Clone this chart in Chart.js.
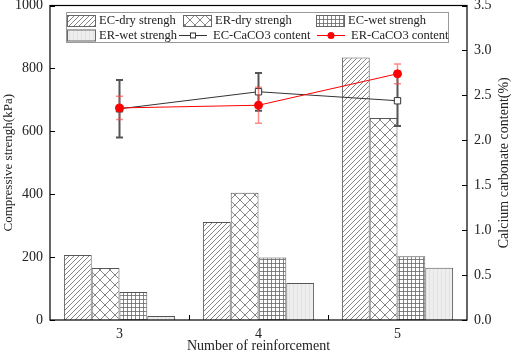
<!DOCTYPE html>
<html>
<head>
<meta charset="utf-8">
<script src="https://cdn.jsdelivr.net/npm/chart.js@4.4.1/dist/chart.umd.min.js"></script>
<style>
  body { margin: 0; background: #fff; }
</style>
</head>
<body>
<canvas id="chart" width="512" height="356"></canvas>
<script>
const categories = ['3', '4', '5'];
const ecDry = [207, 312, 835];
const erDry = [165, 405, 642];
const ecWet = [89, 199, 203];
const erWet = [13, 118, 166];
const ecCaco3 = [2.35, 2.54, 2.44];
const ecCaco3Err = [0.32, 0.21, 0.28];
const erCaco3 = [2.36, 2.39, 2.74];
const erCaco3Err = [0.13, 0.20, 0.11];

const FONT = 'Liberation Serif';
const TXT = '#222';

// hatch fills for the bars
function makePattern(kind) {
    const c = document.createElement('canvas');
    const s = kind === 'cross' ? 10 : (kind === 'diag' ? 5 : 4);
    c.width = s; c.height = s;
    const g = c.getContext('2d');
    g.fillStyle = kind === 'vert' ? '#eeeeee' : '#ffffff';
    g.fillRect(0, 0, s, s);
    g.lineWidth = 0.8;
    g.strokeStyle = '#666';
    g.beginPath();
    if (kind === 'diag') {
        g.moveTo(-1, s + 1); g.lineTo(s + 1, -1);
        g.moveTo(-1, 1); g.lineTo(1, -1);
        g.moveTo(s - 1, s + 1); g.lineTo(s + 1, s - 1);
    } else if (kind === 'cross') {
        g.moveTo(0, 0); g.lineTo(s, s);
        g.moveTo(s, 0); g.lineTo(0, s);
    } else if (kind === 'grid') {
        g.moveTo(s - 0.5, 0); g.lineTo(s - 0.5, s);
        g.moveTo(0, s - 0.5); g.lineTo(s, s - 0.5);
    } else {
        g.strokeStyle = '#dedede';
        g.moveTo(1.5, 0); g.lineTo(1.5, s);
    }
    g.stroke();
    return g.createPattern(c, 'repeat');
}

const patDiag = makePattern('diag');
const patCross = makePattern('cross');
const patGrid = makePattern('grid');
const patVert = makePattern('vert');

function barSet(label, data, fill) {
    return {
        type: 'bar', label: label, data: data, yAxisID: 'y', order: 3,
        backgroundColor: fill, borderColor: '#555', borderWidth: 1,
        categoryPercentage: 0.8, barPercentage: 1.0
    };
}

const errorBars = {
    id: 'errorBars',
    beforeDatasetDraw(chart, args) {
        const ds = chart.data.datasets[args.index];
        if (!ds.errors) return;
        const ctx = chart.ctx;
        const x = chart.scales.x, y = chart.scales.y1;
        ctx.save();
        ctx.strokeStyle = ds.errorColor;
        ctx.lineWidth = ds.errorWidth;
        ds.data.forEach((v, i) => {
            const px = x.getPixelForValue(i);
            const top = y.getPixelForValue(v + ds.errors[i]);
            const bot = y.getPixelForValue(v - ds.errors[i]);
            ctx.beginPath();
            ctx.moveTo(px, top); ctx.lineTo(px, bot);
            ctx.moveTo(px - 3.5, top); ctx.lineTo(px + 3.5, top);
            ctx.moveTo(px - 3.5, bot); ctx.lineTo(px + 3.5, bot);
            ctx.stroke();
        });
        ctx.restore();
    }
};

const frameAndLegend = {
    id: 'frameAndLegend',
    afterDraw(chart) {
        const ctx = chart.ctx;
        const a = chart.chartArea;
        const y = chart.scales.y, y1 = chart.scales.y1, x = chart.scales.x;
        ctx.save();
        ctx.strokeStyle = '#000';
        ctx.lineWidth = 1.2;
        ctx.strokeRect(a.left, a.top, a.right - a.left, a.bottom - a.top);
        ctx.lineWidth = 1;
        ctx.beginPath();
        y.ticks.forEach(t => {
            const p = Math.round(y.getPixelForValue(t.value)) + 0.5;
            ctx.moveTo(a.left, p); ctx.lineTo(a.left + 5, p);
        });
        y1.ticks.forEach(t => {
            const p = Math.round(y1.getPixelForValue(t.value)) + 0.5;
            ctx.moveTo(a.right - 5, p); ctx.lineTo(a.right, p);
        });
        for (let i = 0; i < categories.length - 1; i++) {
            const p = Math.round((x.getPixelForValue(i) + x.getPixelForValue(i + 1)) / 2) + 0.5;
            ctx.moveTo(p, a.bottom); ctx.lineTo(p, a.bottom - 5);
        }
        ctx.stroke();

        // right axis title, reading bottom to top
        ctx.fillStyle = TXT;
        ctx.font = '14px "' + FONT + '"';
        ctx.textAlign = 'center';
        ctx.textBaseline = 'middle';
        ctx.translate(504, (a.top + a.bottom) / 2);
        ctx.rotate(-Math.PI / 2);
        ctx.fillText('Calcium carbonate content(%)', 0, 0);
        ctx.restore();

        // legend box
        ctx.save();
        ctx.fillStyle = '#fff';
        ctx.strokeStyle = '#999';
        ctx.lineWidth = 1;
        ctx.fillRect(66, 12, 383, 31);
        ctx.strokeRect(66.5, 12.5, 382, 30);
        const sets = chart.data.datasets;
        const items = [
            [sets[0], 67, 21], [sets[1], 183, 21], [sets[2], 316, 21],
            [sets[3], 67, 35.5], [sets[4], 179, 35.5], [sets[5], 317, 35.5]
        ];
        ctx.font = '12.5px "' + FONT + '"';
        ctx.textBaseline = 'middle';
        items.forEach(([ds, lx, ly]) => {
            const tx = ds.type === 'bar' ? lx + 32 : lx + 34;
            if (ds.type === 'bar') {
                ctx.fillStyle = ds.backgroundColor;
                ctx.fillRect(lx, ly - 6, 29, 12);
                ctx.strokeStyle = '#666';
                ctx.strokeRect(lx + 0.5, ly - 5.5, 28, 11);
            } else {
                ctx.strokeStyle = ds.borderColor;
                ctx.lineWidth = 1;
                ctx.beginPath();
                ctx.moveTo(lx, ly); ctx.lineTo(lx + 28, ly);
                ctx.stroke();
                const cx = lx + 14;
                if (ds.pointStyle === 'rect') {
                    ctx.fillStyle = '#fff';
                    ctx.fillRect(cx - 3, ly - 3, 6, 6);
                    ctx.strokeRect(cx - 2.5, ly - 2.5, 5, 5);
                } else {
                    ctx.fillStyle = ds.pointBackgroundColor;
                    ctx.beginPath();
                    ctx.arc(cx, ly, 3.5, 0, Math.PI * 2);
                    ctx.fill();
                }
            }
            ctx.fillStyle = TXT;
            ctx.fillText(ds.label, tx, ly);
        });
        ctx.restore();
    }
};

const noGrid = { display: false, drawTicks: false };

new Chart(document.getElementById('chart'), {
    data: {
        labels: categories,
        datasets: [
            barSet('EC-dry strengh', ecDry, patDiag),
            barSet('ER-dry strengh', erDry, patCross),
            barSet('EC-wet strengh', ecWet, patGrid),
            barSet('ER-wet strengh', erWet, patVert),
            {
                type: 'line', label: 'EC-CaCO3 content', data: ecCaco3, yAxisID: 'y1', order: 2,
                borderColor: '#333', borderWidth: 1, pointStyle: 'rect', pointRadius: 4.5,
                pointBackgroundColor: '#fff', pointBorderColor: '#333', pointBorderWidth: 1,
                errors: ecCaco3Err, errorColor: '#555', errorWidth: 2
            },
            {
                type: 'line', label: 'ER-CaCO3 content', data: erCaco3, yAxisID: 'y1', order: 1,
                borderColor: '#ff0000', borderWidth: 1, pointStyle: 'circle', pointRadius: 4,
                pointBackgroundColor: '#ff0000', pointBorderColor: '#ff0000',
                errors: erCaco3Err, errorColor: 'rgba(255,60,60,0.6)', errorWidth: 1.5
            }
        ]
    },
    options: {
        responsive: false,
        animation: false,
        layout: { padding: { top: 5, right: 0, left: 0, bottom: 0 } },
        plugins: { legend: { display: false }, tooltip: { enabled: false } },
        scales: {
            x: {
                type: 'category', offset: true,
                grid: noGrid, border: { display: false },
                ticks: { color: TXT, font: { family: FONT, size: 14 }, padding: 6 },
                title: { display: true, text: 'Number of reinforcement', color: TXT,
                    font: { family: FONT, size: 14 }, padding: 1 },
                afterFit(s) { s.height = 36; s.paddingLeft = 0; s.paddingRight = 0; }
            },
            y: {
                position: 'left', min: 0, max: 1000,
                grid: noGrid, border: { display: false },
                ticks: { stepSize: 200, color: TXT, font: { family: FONT, size: 14 }, padding: 7,
                    callback: v => String(v) },
                title: { display: true, text: 'Compressive strengh(kPa)', color: TXT,
                    font: { family: FONT, size: 13 }, padding: 1 },
                afterFit(s) { s.width = 50; s.paddingTop = 0; s.paddingBottom = 0; }
            },
            y1: {
                position: 'right', min: 0, max: 3.5,
                grid: noGrid, border: { display: false },
                ticks: { stepSize: 0.5, color: TXT, font: { family: FONT, size: 14 }, padding: 7,
                    callback: v => v.toFixed(1) },
                afterFit(s) { s.width = 45; s.paddingTop = 0; s.paddingBottom = 0; }
            }
        }
    },
    plugins: [errorBars, frameAndLegend]
});
</script>
</body>
</html>
